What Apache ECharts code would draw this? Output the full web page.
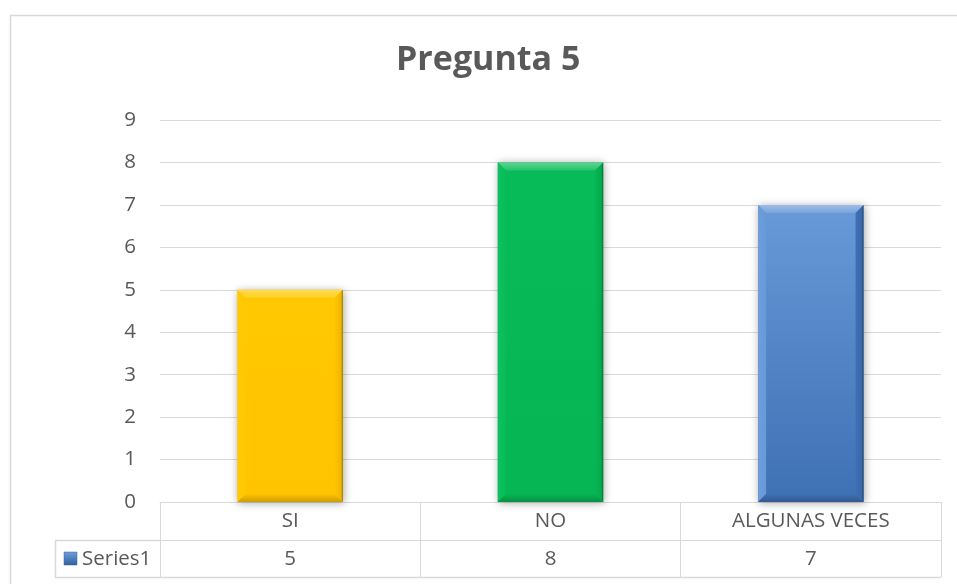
<!DOCTYPE html>
<html>
<head>
<meta charset="utf-8">
<script src="https://cdn.jsdelivr.net/npm/echarts@6/dist/echarts.min.js"></script>
<style>
  html, body { margin: 0; padding: 0; background: #fff; }
  #chart { width: 957px; height: 584px; }
</style>
</head>
<body>
<div id="chart"></div>
<script>
// Survey answers for question 5
const categories = ['SI', 'NO', 'ALGUNAS VECES'];
const values = [5, 8, 7];
const seriesName = 'Series1';
const yTicks = { min: 0, max: 9, interval: 1 };

// Per-bar colours: [face top, face bottom]
const barColors = [
  ['#FFC800', '#FFC400'],
  ['#07BC58', '#06B554'],
  ['#6899D8', '#3E70B4']
];

const FONT = '"Open Sans", "Noto Sans", sans-serif';
const TEXT = '#595959';
const LINE = '#d9d9d9';
const LABEL_SIZE = 20.5;

const GRID = { left: 160, right: 16, top: 120, bottom: 82 };
const W = 957, H = 584;
const plotRight = W - GRID.right;
const plotBottom = H - GRID.bottom;
const rowH = 38;
const tableLeft = 55;

function shade(hex, amt) {
  const n = parseInt(hex.slice(1), 16);
  let r = (n >> 16) & 255, g = (n >> 8) & 255, b = n & 255;
  const f = c => Math.max(0, Math.min(255, Math.round(amt >= 0 ? c + (255 - c) * amt : c * (1 + amt))));
  return 'rgb(' + f(r) + ',' + f(g) + ',' + f(b) + ')';
}

const chart = echarts.init(document.getElementById('chart'), null, { renderer: 'canvas' });

chart.setOption({
  animation: false,
  backgroundColor: '#fff',
  title: {
    text: 'Pregunta 5',
    left: 396,
    top: 43,
    padding: 0,
    textStyle: { fontFamily: FONT, fontSize: 34, fontWeight: 'bold', color: TEXT }
  },
  grid: GRID,
  xAxis: [
    {
      type: 'category',
      data: categories,
      position: 'bottom',
      axisLine: { show: true, lineStyle: { color: LINE, width: 1 } },
      axisTick: { show: true, length: rowH * 2 - 1, lineStyle: { color: LINE } },
      axisLabel: { color: TEXT, fontFamily: FONT, fontSize: LABEL_SIZE, margin: 19, verticalAlign: 'middle' },
      splitLine: { show: false }
    },
    {
      type: 'category',
      data: values.map(String),
      position: 'bottom',
      offset: rowH,
      axisLine: { show: true, lineStyle: { color: LINE, width: 1 } },
      axisTick: { show: false },
      axisLabel: { color: TEXT, fontFamily: FONT, fontSize: LABEL_SIZE, margin: 19, verticalAlign: 'middle' },
      splitLine: { show: false }
    }
  ],
  yAxis: {
    type: 'value',
    min: yTicks.min,
    max: yTicks.max,
    interval: yTicks.interval,
    axisLine: { show: false },
    axisTick: { show: false },
    axisLabel: { color: TEXT, fontFamily: FONT, fontSize: LABEL_SIZE, margin: 24 },
    splitLine: { lineStyle: { color: LINE, width: 1 } }
  },
  series: [{
    type: 'custom',
    name: seriesName,
    xAxisIndex: 0,
    data: values.map((v, i) => [i, v]),
    encode: { x: 0, y: 1 },
    renderItem(params, api) {
      const idx = api.value(0);
      const top = api.coord([idx, api.value(1)]);
      const base = api.coord([idx, 0]);
      const w = api.size([1, 0])[0] * 0.405;
      const x0 = top[0] - w / 2, x1 = top[0] + w / 2;
      const y0 = top[1], y1 = base[1];
      const b = 8;
      const [cTop, cBot] = barColors[idx];
      const face = new echarts.graphic.LinearGradient(0, 0, 0, 1, [
        { offset: 0, color: cTop }, { offset: 1, color: cBot }
      ]);
      return {
        type: 'group',
        children: [
          {
            type: 'rect',
            shape: { x: x0, y: y0, width: w, height: y1 - y0 },
            style: { fill: face, shadowBlur: 8, shadowColor: 'rgba(0,0,0,0.35)', shadowOffsetX: 1, shadowOffsetY: 1 }
          },
          {
            type: 'polygon',
            shape: { points: [[x0, y0], [x1, y0], [x1 - b, y0 + b], [x0 + b, y0 + b]] },
            style: { fill: new echarts.graphic.LinearGradient(0, 0, 0, 1, [
              { offset: 0, color: shade(cTop, 0.35) }, { offset: 1, color: shade(cTop, 0.12) }
            ]) }
          },
          {
            type: 'polygon',
            shape: { points: [[x0, y0], [x0 + b, y0 + b], [x0 + b, y1 - b], [x0, y1]] },
            style: { fill: new echarts.graphic.LinearGradient(0, 0, 1, 0, [
              { offset: 0, color: shade(cTop, 0.04) }, { offset: 1, color: shade(cTop, 0.0) }
            ]) }
          },
          {
            type: 'polygon',
            shape: { points: [[x1, y0], [x1, y1], [x1 - b, y1 - b], [x1 - b, y0 + b]] },
            style: { fill: new echarts.graphic.LinearGradient(0, 0, 1, 0, [
              { offset: 0, color: shade(cBot, 0) }, { offset: 0.75, color: shade(cBot, -0.06) }, { offset: 1, color: shade(cBot, -0.4) }
            ]) }
          },
          {
            type: 'polygon',
            shape: { points: [[x0, y1], [x1, y1], [x1 - b, y1 - b], [x0 + b, y1 - b]] },
            style: { fill: new echarts.graphic.LinearGradient(0, 0, 0, 1, [
              { offset: 0, color: shade(cBot, 0) }, { offset: 1, color: shade(cBot, -0.2) }
            ]) }
          }
        ]
      };
    }
  }],
  graphic: [
    // chart area frame
    {
      type: 'rect', silent: true, z: -1,
      shape: { x: 10.5, y: 15.5, width: 980, height: 620 },
      style: { fill: 'none', stroke: LINE, lineWidth: 1.5 }
    },
    // data table: legend row frame
    {
      type: 'polyline', silent: true,
      shape: { points: [[GRID.left, plotBottom + rowH + 0.5], [tableLeft + 0.5, plotBottom + rowH + 0.5], [tableLeft + 0.5, plotBottom + rowH * 2 - 0.5], [plotRight, plotBottom + rowH * 2 - 0.5]] },
      style: { fill: 'none', stroke: LINE, lineWidth: 1.5 }
    },
    // legend key
    {
      type: 'rect', silent: true,
      shape: { x: 64, y: plotBottom + rowH + 12, width: 13, height: 13 },
      style: {
        fill: new echarts.graphic.LinearGradient(0, 0, 0, 1, [
          { offset: 0, color: '#6fa0dc' }, { offset: 1, color: '#2f5f9e' }
        ]),
        stroke: '#3a64a0', lineWidth: 0.5
      }
    },
    {
      type: 'text', silent: true,
      style: {
        x: 82, y: plotBottom + rowH + 19,
        text: seriesName,
        font: LABEL_SIZE + 'px ' + FONT,
        fill: TEXT,
        verticalAlign: 'middle'
      }
    }
  ]
});
</script>
</body>
</html>
